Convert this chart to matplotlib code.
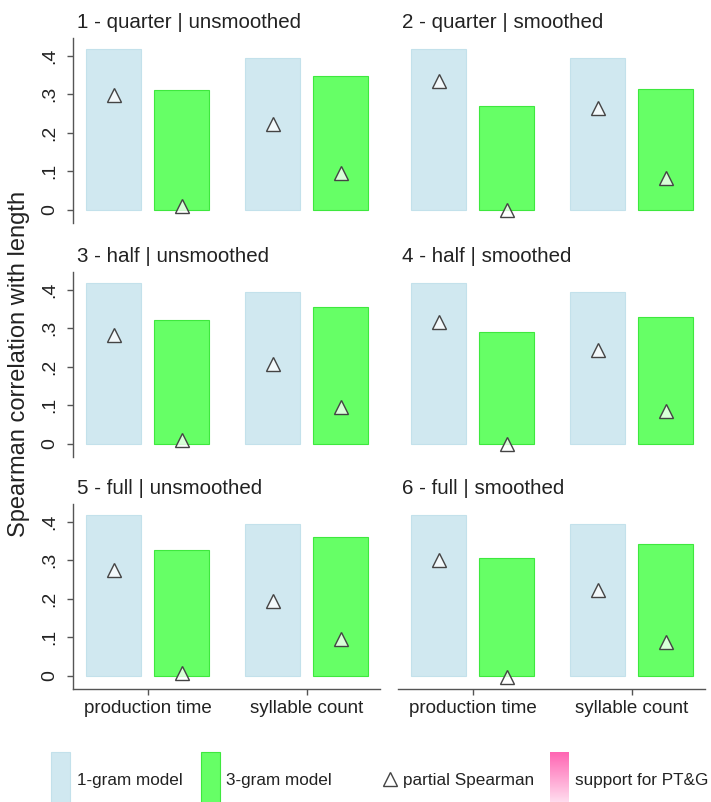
import numpy as np
import matplotlib
matplotlib.use("Agg")
import matplotlib.pyplot as plt
from matplotlib.colors import LinearSegmentedColormap

plt.rcParams['font.family'] = ['Liberation Sans', 'DejaVu Sans']

# data
panel_titles = ["1 - quarter | unsmoothed", "2 - quarter | smoothed",
                "3 - half | unsmoothed", "4 - half | smoothed",
                "5 - full | unsmoothed", "6 - full | smoothed"]
categories = ["production time", "syllable count"]

rho_1gram = [[0.417, 0.394], [0.417, 0.394], [0.417, 0.394],
             [0.417, 0.394], [0.417, 0.394], [0.417, 0.394]]
rho_3gram = [[0.310, 0.346], [0.269, 0.313], [0.320, 0.354],
             [0.290, 0.330], [0.327, 0.359], [0.305, 0.343]]
partial_1gram = [[0.297, 0.222], [0.335, 0.265], [0.283, 0.206],
                 [0.316, 0.242], [0.275, 0.194], [0.301, 0.223]]
partial_3gram = [[0.009, 0.095], [-0.002, 0.082], [0.009, 0.096],
                 [-0.001, 0.085], [0.007, 0.095], [-0.003, 0.088]]

yticks = [0, 0.1, 0.2, 0.3, 0.4]
yticklabels = ["0", ".1", ".2", ".3", ".4"]

c1 = '#d0e8f0'
c3 = '#66ff66'
axcol = '#555555'

W, H = 711, 802
fig = plt.figure(figsize=(W / 100, H / 100), dpi=100)

lefts = [73 / W, 398 / W]
bottoms = [(H - 223) / H, (H - 457) / H, (H - 689) / H]
aw, ah = 307 / W, 185 / H

x = np.arange(1, len(categories) + 1)
off, bw = 0.214, 0.345

for i, title in enumerate(panel_titles):
    r, c = divmod(i, 2)
    ax = fig.add_axes([lefts[c], bottoms[r], aw, ah])
    ax.bar(x - off, rho_1gram[i], width=bw, color=c1, edgecolor='#c3e1eb', lw=0.8)
    ax.bar(x + off, rho_3gram[i], width=bw, color=c3, edgecolor='#3ee83e', lw=0.8)
    for dx, vals in [(-off, partial_1gram[i]), (off, partial_3gram[i])]:
        ax.plot(x + dx, vals, ls='none', marker='^', ms=9.5,
                mfc=(1, 1, 1, 0.75), mec='#444444', mew=1.0, zorder=3)
    ax.set_xlim(0.53, 2.46)
    ax.set_ylim(-0.035, 0.446)

    for s in ['top', 'right']:
        ax.spines[s].set_visible(False)
    ax.spines['left'].set_visible(c == 0)
    ax.spines['bottom'].set_visible(r == 2)
    for s in ['left', 'bottom']:
        ax.spines[s].set_color(axcol)
        ax.spines[s].set_linewidth(1.0)

    ax.set_yticks(yticks)
    if c == 0:
        ax.set_yticklabels(yticklabels, rotation=90, va='center', fontsize=14)
        ax.tick_params(axis='y', length=4.5, width=1, color=axcol, pad=6, labelcolor='#222222')
    else:
        ax.tick_params(axis='y', left=False, labelleft=False)

    ax.set_xticks(x)
    if r == 2:
        ax.set_xticklabels(categories, fontsize=13.5)
        ax.tick_params(axis='x', length=4.5, width=1, color=axcol, pad=3.5, labelcolor='#222222')
    else:
        ax.tick_params(axis='x', bottom=False, labelbottom=False)

    ax.annotate(title, xy=(0, 1), xycoords='axes fraction', xytext=(3, 7.5),
                textcoords='offset points', ha='left', va='baseline',
                fontsize=14.8, color='#222222')

fig.text(19 / W, 1 - 364 / H, "Spearman correlation with length", rotation=90,
         ha='center', va='center', fontsize=17, color='#222222')

# legend strip along the bottom
lax = fig.add_axes([0, 0, 1, 62 / H])
lax.set_xlim(0, W)
lax.set_ylim(H, H - 62)
lax.axis('off')
lax.add_patch(plt.Rectangle((51, 752), 19, 60, facecolor=c1, edgecolor='#c3e1eb', lw=0.8))
lax.add_patch(plt.Rectangle((201, 752), 19, 60, facecolor=c3, edgecolor='#3ee83e', lw=0.8))
pink = LinearSegmentedColormap.from_list('pink', ['#ff66b3', '#ffdcee'])
lax.imshow(np.linspace(0, 1, 50).reshape(-1, 1), cmap=pink, aspect='auto',
           extent=[550, 569, 802, 752], interpolation='bilinear')
lax.plot([390], [779], ls='none', marker='^', ms=10, mfc='white', mec='#444444', mew=1.0)
lax.set_xlim(0, W)
lax.set_ylim(H, H - 62)
legend_items = [(77, "1-gram model"), (226, "3-gram model"),
                (403, "partial Spearman"), (575, "support for PT&G")]
for lx, txt in legend_items:
    lax.text(lx, 780, txt, ha='left', va='center', fontsize=12.3, color='#222222')

fig.savefig("out.png", dpi=100)
